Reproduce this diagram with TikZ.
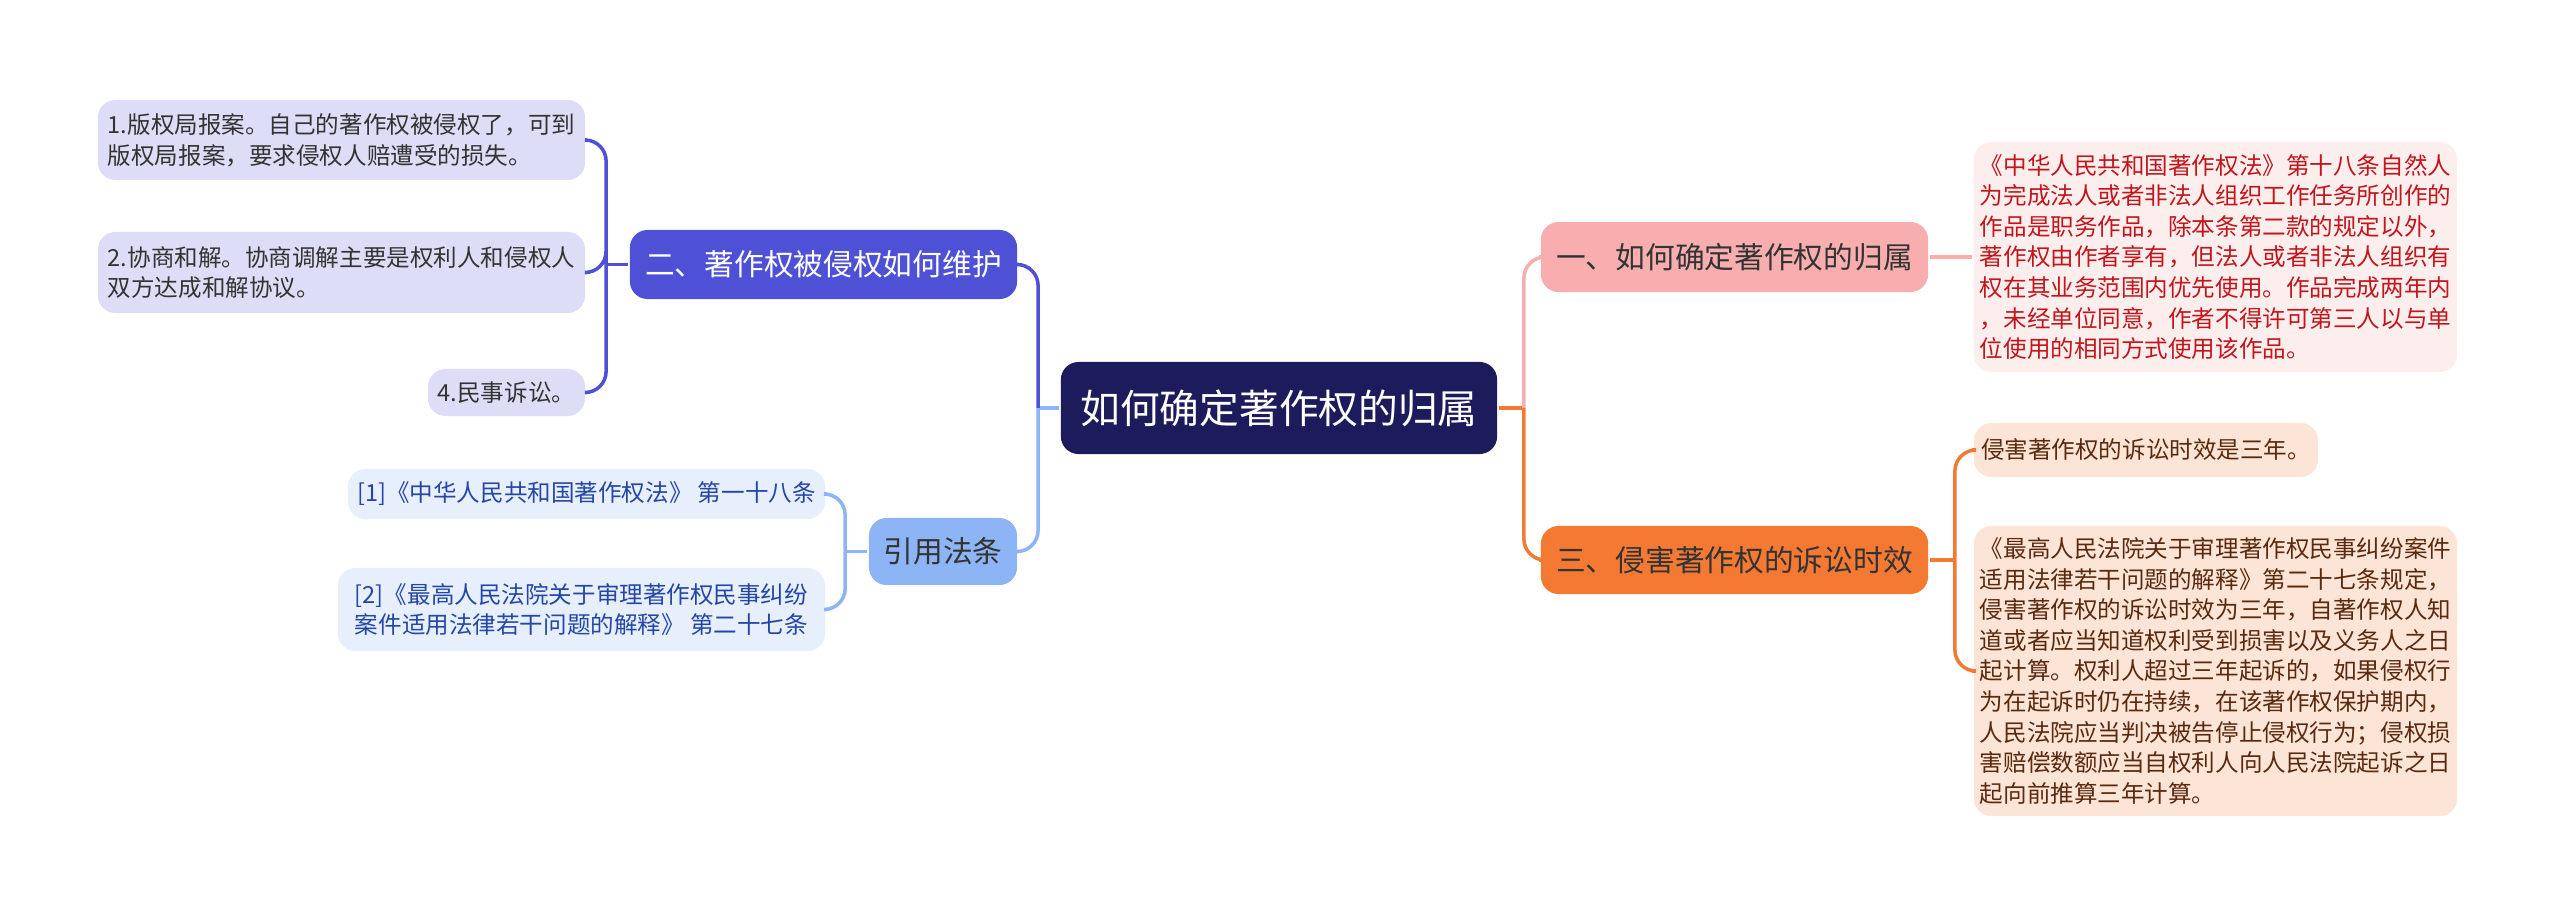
\documentclass[tikz,border=0pt]{standalone}
\usepackage{fontspec}
\usepackage{tikz}
\setmainfont{Noto Sans CJK SC}
\definecolor{rootblue}{HTML}{1C1B5C}
\definecolor{violet2}{HTML}{4E50D6}
\definecolor{lav2}{HTML}{DDDDF7}
\definecolor{skyref}{HTML}{8DB4F4}
\definecolor{paleref}{HTML}{E7EFFC}
\definecolor{inkref}{HTML}{2446A6}
\definecolor{pink1}{HTML}{F8AEAE}
\definecolor{palepink}{HTML}{FDEEEE}
\definecolor{inkred}{HTML}{C0161C}
\definecolor{orange3}{HTML}{F47A33}
\definecolor{peach3}{HTML}{FCE4D6}
\definecolor{inkbrown}{HTML}{5A2A0E}
\definecolor{darktext}{HTML}{333333}

\begin{document}
\begin{tikzpicture}[x=0.01cm, y=-0.01cm, line width=1pt,
    box/.style={rounded corners=5pt, inner sep=0pt, align=left},
    leaf/.style={box, font=\fontsize{6.7}{8.7}\selectfont},
    branch/.style={box, text=darktext, font=\fontsize{8.45}{10}\selectfont},
    link/.style={rounded corners=6pt}]
    \useasboundingbox (0,0) rectangle (2560,918);

    \node[box, fill=rootblue, text=white, font=\fontsize{11.3}{13}\selectfont, minimum width=4.36cm, minimum height=0.92cm] (root) at (1279,408) {如何确定著作权的归属};

    \node[branch, fill=violet2, text=white, minimum width=3.87cm, minimum height=0.69cm] (b2) at (823.5,264.5) {二、著作权被侵权如何维护};
    \node[branch, fill=skyref, minimum width=1.48cm, minimum height=0.67cm] (bref) at (943,551.5) {引用法条};
    \node[branch, fill=pink1, minimum width=3.87cm, minimum height=0.70cm] (b1) at (1734.5,257) {一、如何确定著作权的归属};
    \node[branch, fill=orange3, minimum width=3.87cm, minimum height=0.68cm] (b3) at (1734.5,560) {三、侵害著作权的诉讼时效};

    \node[leaf, fill=lav2, text=darktext, minimum width=4.87cm, minimum height=0.80cm] (l21) at (341.5,140) {1.版权局报案。自己的著作权被侵权了，可到\\版权局报案，要求侵权人赔遭受的损失。};
    \node[leaf, fill=lav2, text=darktext, minimum width=4.87cm, minimum height=0.81cm] (l22) at (341.5,272.5) {2.协商和解。协商调解主要是权利人和侵权人\\双方达成和解协议。};
    \node[leaf, fill=lav2, text=darktext, minimum width=1.57cm, minimum height=0.47cm] (l24) at (506.5,392.5) {4.民事诉讼。};

    \node[leaf, fill=paleref, text=inkref, minimum width=4.77cm, minimum height=0.50cm] (r1) at (586.5,494) {[1]《中华人民共和国著作权法》 第一十八条};
    \node[leaf, fill=paleref, text=inkref, minimum width=4.87cm, minimum height=0.83cm] (r2) at (581.5,609.5) {[2]《最高人民法院关于审理著作权民事纠纷\\案件适用法律若干问题的解释》 第二十七条};

    \node[leaf, fill=palepink, text=inkred, minimum width=4.83cm, minimum height=2.30cm] (l1) at (2215.5,257) {《中华人民共和国著作权法》第十八条自然人\\为完成法人或者非法人组织工作任务所创作的\\作品是职务作品，除本条第二款的规定以外，\\著作权由作者享有，但法人或者非法人组织有\\权在其业务范围内优先使用。作品完成两年内\\，未经单位同意，作者不得许可第三人以与单\\位使用的相同方式使用该作品。};

    \node[leaf, fill=peach3, text=inkbrown, minimum width=3.44cm, minimum height=0.54cm] (l3a) at (2146,450) {侵害著作权的诉讼时效是三年。};
    \node[leaf, fill=peach3, text=inkbrown, minimum width=4.83cm, minimum height=2.90cm] (l3b) at (2215.5,671) {《最高人民法院关于审理著作权民事纠纷案件\\适用法律若干问题的解释》第二十七条规定，\\侵害著作权的诉讼时效为三年，自著作权人知\\道或者应当知道权利受到损害以及义务人之日\\起计算。权利人超过三年起诉的，如果侵权行\\为在起诉时仍在持续，在该著作权保护期内，\\人民法院应当判决被告停止侵权行为；侵权损\\害赔偿数额应当自权利人向人民法院起诉之日\\起向前推算三年计算。};

    \coordinate (rj) at ([xshift=0.25cm]root.east);
    \coordinate (lj) at ([xshift=-0.21cm]root.west);
    \coordinate (j2) at ([xshift=-0.22cm]b2.west);
    \coordinate (jr) at ([xshift=-0.22cm]bref.west);
    \coordinate (j3) at ([xshift=0.25cm]b3.east);

    \draw[orange3] (root.east) -- (rj);
    \draw[link, pink1] (rj) |- (b1.west);
    \draw[link, orange3] (rj) |- (b3.west);
    \draw[skyref] (root.west) -- (lj);
    \draw[link, violet2] (lj) |- (b2.east);
    \draw[link, skyref] (lj) |- (bref.east);

    \draw[violet2] (b2.west) -- (j2);
    \foreach \n in {l21, l22, l24}
        \draw[link, violet2] (j2) |- (\n.east);
    \draw[skyref] (bref.west) -- (jr);
    \foreach \n in {r1, r2}
        \draw[link, skyref] (jr) |- (\n.east);

    \draw[pink1] (b1.east) -- (l1.west);
    \draw[orange3] (b3.east) -- (j3);
    \draw[link, orange3] (j3) |- (l3a.west);
    \draw[link, orange3] (j3) |- (l3b.west);
\end{tikzpicture}
\end{document}
